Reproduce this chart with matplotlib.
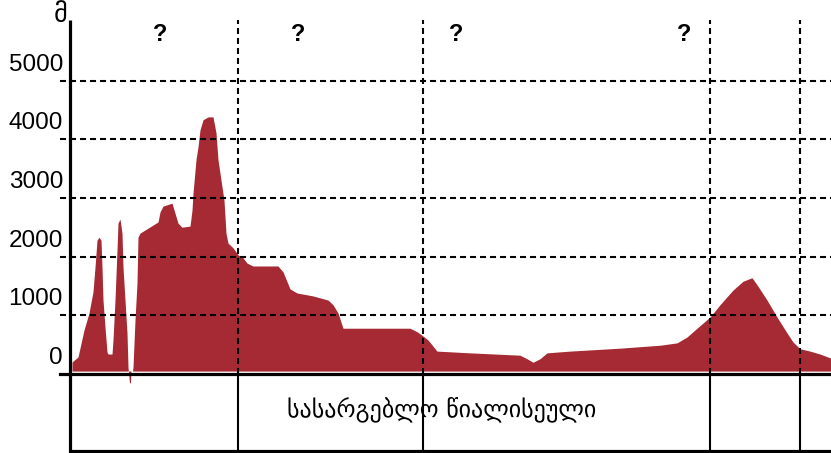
import matplotlib

matplotlib.use("Agg")
import matplotlib.pyplot as plt

# elevation profile (distance along section, elevation in m)
dist = [2, 2, 8, 14, 19, 23, 25, 27, 29, 31, 32, 33, 35, 37, 38, 42, 43, 45, 47, 48,
        50, 52, 53, 55, 57, 58, 59.5, 60.5, 61, 62.5, 63, 65, 67, 68, 70, 88, 90, 93,
        102, 105, 108, 112, 120, 122, 123, 126, 128, 130, 133, 138, 143, 146, 148, 152,
        154, 156, 158, 163, 168, 173, 177, 183, 208, 213, 220, 227, 243, 258, 263, 268,
        273, 293, 340, 347, 352, 358, 367, 400, 450, 457, 463, 470, 477, 500, 550, 590,
        607, 617, 627, 640, 650, 663, 673, 682, 687, 697, 707, 717, 723, 730, 740, 750,
        761]
elev = [34, 204, 290, 750, 1040, 1400, 1820, 2280, 2330, 2280, 1820, 1260, 800, 375,
        340, 340, 580, 1260, 2110, 2570, 2640, 2400, 1820, 1260, 700, 120, -150, -150,
        50, 50, 120, 920, 1550, 2330, 2400, 2590, 2760, 2860, 2910, 2740, 2570, 2500,
        2520, 2790, 3080, 3650, 3870, 4160, 4330, 4380, 4380, 4110, 3650, 3190, 2960,
        2400, 2230, 2150, 2030, 1980, 1890, 1840, 1840, 1740, 1450, 1380, 1330, 1260,
        1180, 1040, 780, 780, 780, 720, 660, 580, 390, 360, 320, 260, 200, 260, 360,
        390, 440, 490, 530, 630, 780, 970, 1180, 1430, 1580, 1640, 1520, 1260, 970,
        700, 545, 430, 390, 340, 270]
base_level = 50

y_ticks = [0, 1000, 2000, 3000, 4000, 5000]
section_bounds = [168, 353, 640, 730]
question_x = [90, 228, 386, 614]
unit_label = "მ"
band_label = "სასარგებლო წიალისეული"

M_PER_PX = 1000 / 58.7
X_MAX = 761
Y_TOP = 374 * M_PER_PX
Y_BOTTOM = -79 * M_PER_PX
AXIS_TOP = 354 * M_PER_PX
BAND_BOTTOM = -77 * M_PER_PX

FILL = "#a52a33"
DASH = (0, (2.9, 1.9))

fig = plt.figure(figsize=(8.31, 4.53), dpi=100)
ax = fig.add_axes([70 / 831, 0, 761 / 831, 1])
ax.set_xlim(0, X_MAX)
ax.set_ylim(Y_BOTTOM, Y_TOP)
ax.axis("off")

ax.fill_between(dist, base_level, elev, color=FILL, linewidth=0, zorder=1)

# dashed grid
for t in y_ticks[1:]:
    ax.plot([-10, X_MAX], [t, t], color="black", linewidth=1.5, linestyle=DASH,
            clip_on=False, zorder=3)
for xb in section_bounds:
    ax.plot([xb, xb], [0, AXIS_TOP], color="black", linewidth=1.5, linestyle=DASH,
            zorder=3)
    ax.plot([xb, xb], [0, BAND_BOTTOM], color="black", linewidth=1.5, zorder=3)

# axis frame
ax.plot([0, 0], [Y_BOTTOM, AXIS_TOP], color="black", linewidth=2.3, clip_on=False,
        solid_capstyle="butt", zorder=4)
ax.plot([-10, X_MAX], [0, 0], color="black", linewidth=2.3, clip_on=False, zorder=4)
ax.plot([0, X_MAX], [BAND_BOTTOM, BAND_BOTTOM], color="black", linewidth=2.3,
        zorder=4)

for t in y_ticks:
    ax.text(-7, t + 270, str(t), ha="right", va="center", fontsize=17.5,
            family="Liberation Sans", clip_on=False)

ax.text(-9, 6110, unit_label, ha="center", va="center", fontsize=19,
        family="DejaVu Sans", clip_on=False)

for qx in question_x:
    ax.text(qx, 5780, "?", ha="center", va="center", fontsize=17,
            fontweight="bold", family="Liberation Sans")

ax.text(372, -35 * M_PER_PX, band_label, ha="center", va="center", fontsize=17.3,
        family="DejaVu Sans", zorder=2)

fig.savefig("out.png", dpi=100)
